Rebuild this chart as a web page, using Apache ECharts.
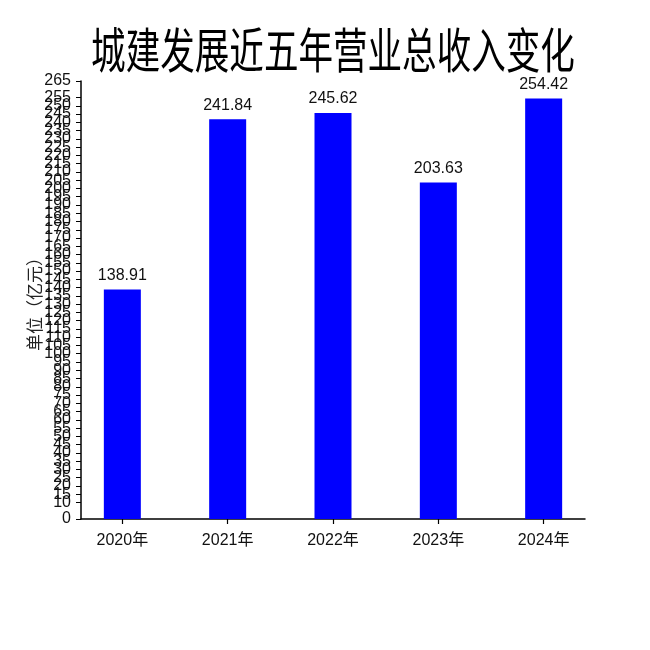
<!DOCTYPE html>
<html>
<head>
<meta charset="utf-8">
<script src="https://cdn.jsdelivr.net/npm/echarts@6/dist/echarts.min.js"></script>
<style>
  html, body { margin: 0; padding: 0; background: #fff; }
  #chart { width: 650px; height: 650px; }
</style>
</head>
<body>
<div id="chart"></div>
<script>
// Revenue by year (亿元)
const years = ['2020年', '2021年', '2022年', '2023年', '2024年'];
const revenue = [138.91, 241.84, 245.62, 203.63, 254.42];
const titleText = '城建发展近五年营业总收入变化';
const yName = '单位（亿元）';
const yMax = 265;
const yStep = 5;

const chart = echarts.init(document.getElementById('chart'), null, { renderer: 'canvas' });

// Bars sit at integer positions on a numeric x axis so the padding at the ends
// can be set independently of the category spacing.
const positions = years.map((_, i) => i);
const barData = revenue.map((v, i) => [positions[i], v]);

const option = {
  backgroundColor: '#ffffff',
  animation: false,
  graphic: [{
    // chart title, set in a condensed width
    type: 'text',
    x: 333,
    y: 50,
    scaleX: 0.72,
    style: {
      text: titleText,
      font: '48px "Noto Sans CJK SC"',
      fill: '#000',
      textAlign: 'center',
      textVerticalAlign: 'middle'
    }
  }, {
    // unit label beside the value axis, tucked close to the tick labels
    type: 'text',
    x: 35,
    y: 300,
    rotation: Math.PI / 2,
    style: {
      text: yName,
      font: '17px "Noto Sans CJK SC"',
      fill: '#222',
      textAlign: 'center',
      textVerticalAlign: 'middle'
    }
  }],
  grid: {
    left: 81,
    right: 65,
    top: 81,
    bottom: 131,
    containLabel: false,
    outerBoundsMode: 'none'
  },
  xAxis: {
    type: 'value',
    min: -0.3925,
    max: 4.3925,
    splitLine: { show: false },
    axisLine: { show: true, onZero: false, lineStyle: { color: '#000', width: 1.5 } },
    axisTick: {
      show: true,
      length: 5,
      customValues: positions,
      lineStyle: { color: '#000', width: 1.2 }
    },
    axisLabel: {
      customValues: positions,
      margin: 14,
      color: '#111',
      fontSize: 16,
      fontFamily: '"Liberation Sans Narrow", "Liberation Sans", "Noto Sans CJK SC"',
      formatter: v => years[Math.round(v)]
    }
  },
  yAxis: {
    type: 'value',
    min: 0,
    max: yMax,
    interval: yStep,
    splitLine: { show: false },
    axisLine: { show: true, onZero: false, lineStyle: { color: '#000', width: 1.5 } },
    axisTick: { show: true, length: 5, lineStyle: { color: '#000', width: 1 } },
    axisLabel: {
      show: true,
      margin: 10,
      color: '#111',
      fontSize: 16,
      fontFamily: '"Liberation Sans"',
      showMinLabel: true,
      showMaxLabel: true,
      hideOverlap: false
    }
  },
  series: [{
    type: 'bar',
    data: barData,
    barWidth: 37,
    itemStyle: { color: '#0000ff' },
    label: {
      show: true,
      position: 'top',
      distance: 6,
      color: '#111',
      fontSize: 16,
      fontFamily: '"Liberation Sans"',
      formatter: p => p.value[1].toFixed(2)
    }
  }]
};

chart.setOption(option);
</script>
</body>
</html>
